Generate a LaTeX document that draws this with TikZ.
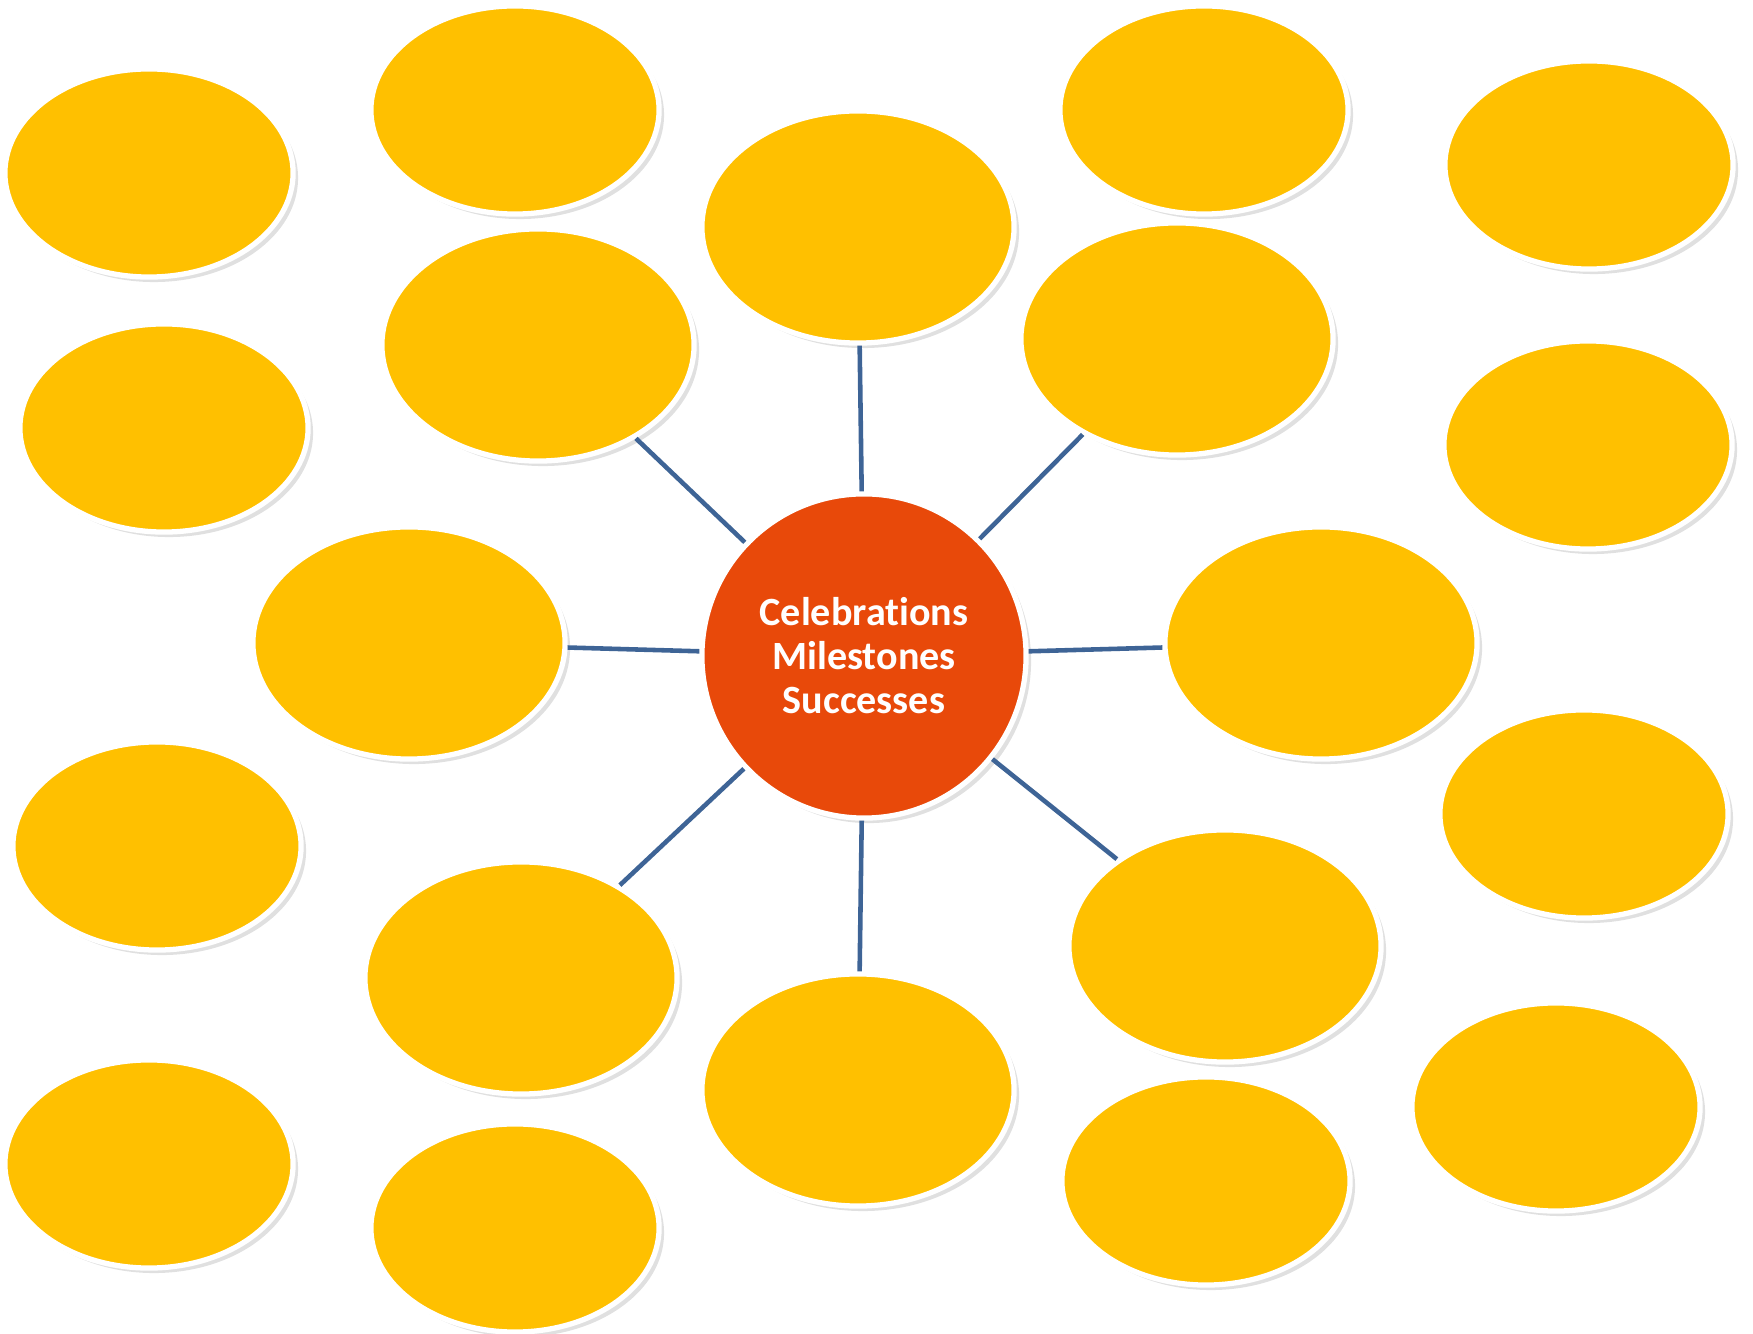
\documentclass[tikz,border=0pt]{standalone}
\usepackage{fontspec}
\setmainfont[Ligatures=NoCommon]{Carlito}
\usetikzlibrary{shapes.geometric}
\usetikzlibrary{shadows}

\definecolor{petal}{RGB}{255,192,0}
\definecolor{hubred}{RGB}{232,73,10}
\definecolor{spoke}{RGB}{62,100,150}

\tikzset{
  bubble/.style={ellipse, fill=petal, draw=white, line width=1.5pt, inner sep=0pt,
    minimum width=2.88cm, minimum height=2.08cm,
    drop shadow={shadow xshift=0.05cm, shadow yshift=-0.05cm, fill=black, opacity=0.12}},
  bigbubble/.style={bubble, minimum width=3.12cm, minimum height=2.32cm},
  spokeline/.style={draw=spoke, line width=1.3pt}
}

\begin{document}
\begin{tikzpicture}[x=0.01cm, y=-0.01cm]
	\useasboundingbox (0,0) rectangle (1753,1334);

	% outer ring
	\node[bubble] (e1) at (149,173) {};
	\node[bubble] (e2) at (515,110) {};
	\node[bubble] (e4) at (1204,110) {};
	\node[bubble] (e5) at (1589,165) {};
	\node[bubble] (e6) at (164,428) {};
	\node[bubble] (e9) at (1588,445) {};
	\node[bubble] (e13) at (157,846) {};
	\node[bubble] (e14) at (1584,814) {};
	\node[bubble] (e18) at (149,1164) {};
	\node[bubble] (e19) at (515,1228) {};
	\node[bubble] (e20) at (1206,1181) {};
	\node[bubble] (e21) at (1556,1107) {};

	% inner ring
	\node[bigbubble] (top) at (858,227) {};
	\node[bigbubble] (topleft) at (538,345) {};
	\node[bigbubble] (topright) at (1177,339) {};
	\node[bigbubble] (left) at (409,643) {};
	\node[bigbubble] (right) at (1321,643) {};
	\node[bigbubble] (botleft) at (521,978) {};
	\node[bigbubble] (botright) at (1225,946) {};
	\node[bigbubble] (bot) at (858,1090) {};

	% hub
	\node[circle, fill=hubred, draw=white, line width=1.5pt, minimum size=3.24cm, inner sep=0pt,
	  drop shadow={shadow xshift=0.05cm, shadow yshift=-0.05cm, fill=black, opacity=0.12},
	  text=white, align=center, font=\bfseries\fontsize{11.4}{12.5}\selectfont] (hub) at (864,656)
	  {Celebrations\\Milestones\\Successes};

	\draw[spokeline] (top) -- (hub);
	\draw[spokeline] (topleft) -- (hub);
	\draw[spokeline] (topright) -- (hub);
	\draw[spokeline] (left) -- (hub);
	\draw[spokeline] (right) -- (hub);
	\draw[spokeline] (botleft) -- (hub);
	\draw[spokeline] (botright) -- (hub);
	\draw[spokeline] (bot) -- (hub);
\end{tikzpicture}
\end{document}
